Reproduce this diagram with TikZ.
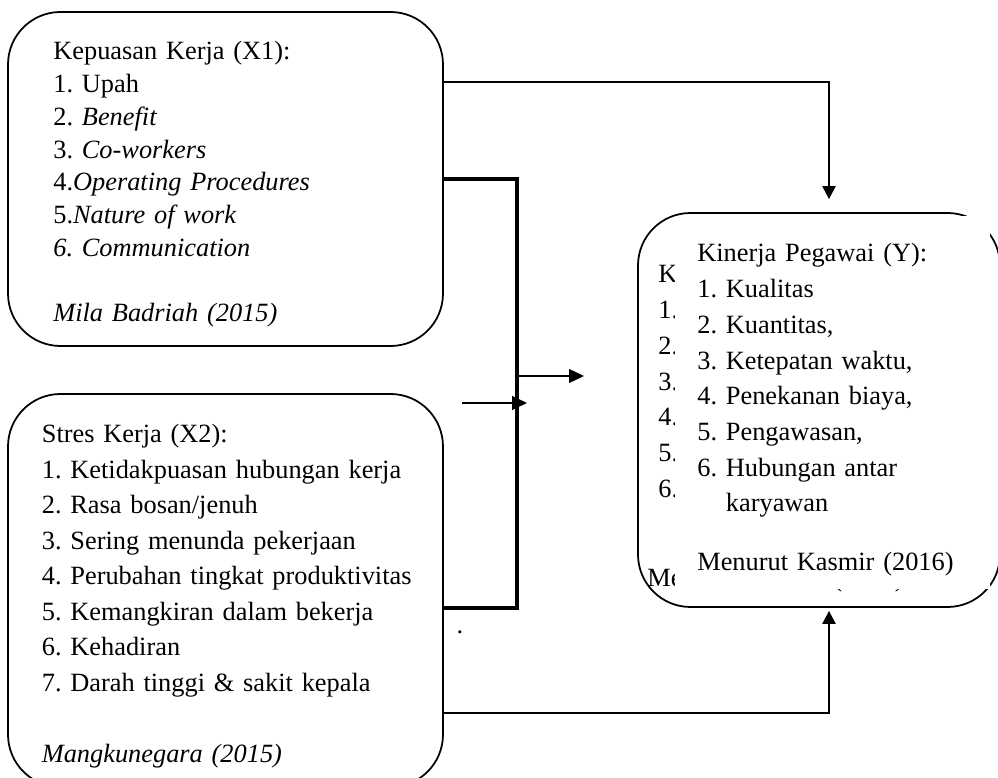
\documentclass[tikz,border=0pt]{standalone}
\usepackage{fontspec}
\setmainfont{Liberation Serif}
\frenchspacing
\usetikzlibrary{arrows.meta, positioning, calc}
\tikzstyle{varbox} = [rectangle, rounded corners=1.05cm, draw=black, line width=1pt, inner sep=0pt]
\tikzstyle{itemlist} = [anchor=base west, inner sep=0pt, align=left, text width=8cm]
\tikzstyle{cover} = [rectangle, fill=white, inner sep=0pt, anchor=north west]
\tikzstyle{arrow} = [line width=1.3pt, -{Triangle[length=2.6mm,width=2.6mm]}]
\tikzstyle{thinarrow} = [line width=0.6pt, -{Triangle[length=3mm,width=2.8mm]}]
\tikzstyle{bracket} = [line width=1.8pt]

\begin{document}
\begin{tikzpicture}[x=0.2mm, y=-0.2mm]
\useasboundingbox (0,0) rectangle (998,778);
\clip (0,0) rectangle (998,778);

% Variable boxes
\node (x1box) [varbox, minimum width=87mm, minimum height=66.8mm] at (225.5,179) {};
\node (x2box) [varbox, minimum width=87mm, minimum height=78.6mm] at (225.5,590.5) {};
\node (ybox) [varbox, minimum width=72.4mm, minimum height=78.8mm] at (819,410) {};

% Box texts
\node (x1text) [itemlist, font=\fontsize{15}{18.6}\selectfont] at (53,60) {Kepuasan Kerja (X1):\\
1. Upah\\
2. \textit{Benefit}\\
3. \textit{Co-workers}\\
4.\textit{Operating Procedures}\\
5.\textit{Nature of work}\\
\textit{6. Communication}\\[18.6pt]
\textit{Mila Badriah (2015)}};

\node (x2text) [itemlist, font=\fontsize{15}{20.2}\selectfont] at (41.5,443) {Stres Kerja (X2):\\
1. Ketidakpuasan hubungan kerja\\
2. Rasa bosan/jenuh\\
3. Sering menunda pekerjaan\\
4. Perubahan tingkat produktivitas\\
5. Kemangkiran dalam bekerja\\
6. Kehadiran\\
7. Darah tinggi \& sakit kepala\\[20.2pt]
\textit{Mangkunegara (2015)}};

% Y: older text behind the white text box
\node (yold) [itemlist, font=\fontsize{15}{20.3}\selectfont] at (658,283) {Kinerja Pegawai (Y):\\
1. Kualitas\\
2. Kuantitas,\\
3. Ketepatan waktu,\\
4. Penekanan biaya,\\
5. Pengawasan,\\
6. Hubungan antar\\
\hphantom{6. }karyawan\\[10.4pt]
\hspace*{-2.2mm}Menurut Kasmir (2016)};
\node (ycover) [cover, minimum width=63mm, minimum height=74.6mm] at (675,216) {};
\node (ytext) [itemlist, font=\fontsize{15}{20.3}\selectfont] at (697,262) {Kinerja Pegawai (Y):\\
1. Kualitas\\
2. Kuantitas,\\
3. Ketepatan waktu,\\
4. Penekanan biaya,\\
5. Pengawasan,\\
6. Hubungan antar\\
\hphantom{6. }karyawan\\[13.2pt]
Menurut Kasmir (2016)};

% Connectors
\coordinate (bracketbot) at (517,608);
\coordinate (toY) at (584,376);
\coordinate (fromleft) at (462,403);
\draw [arrow] ([yshift=19.4mm]x1box.east) -| ([xshift=2mm,yshift=2.6mm]ybox.north);
\draw [bracket] (x1box.east) -| (bracketbot) -- (x2box.east |- bracketbot);
\draw [thinarrow] (toY -| bracketbot) -- (toY);
\draw [thinarrow] (fromleft) -- ([xshift=2mm]fromleft -| bracketbot);
\node (dot) [anchor=base, inner sep=0pt, font=\fontsize{15}{18}\selectfont] at (460,634) {.};
\draw [arrow] ([yshift=-24.5mm]x2box.east) -| ([xshift=2mm,yshift=-0.6mm]ybox.south);

\end{tikzpicture}
\end{document}
